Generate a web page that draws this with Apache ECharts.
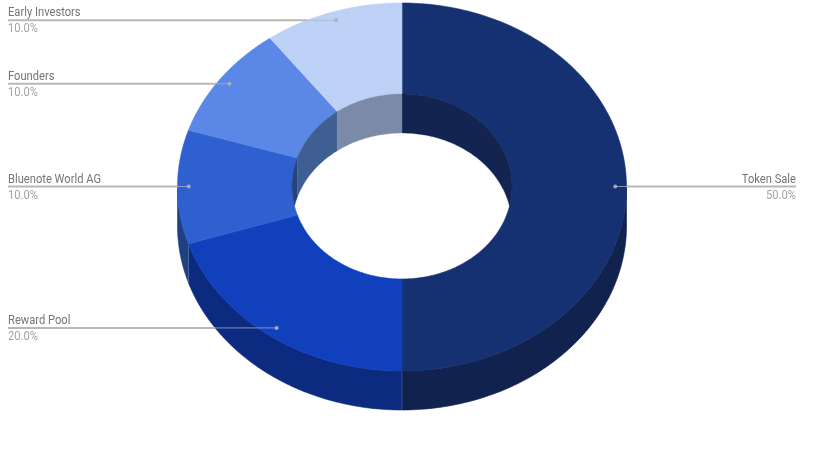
<!DOCTYPE html>
<html><head><meta charset="utf-8">
<style>html,body{margin:0;padding:0;background:#fff}#c{width:819px;height:460px}</style>
<script src="https://cdn.jsdelivr.net/npm/echarts@6/dist/echarts.min.js"></script>
</head><body><div id="c"></div>
<script>
var categories = ['Token Sale','Reward Pool','Bluenote World AG','Founders','Early Investors'];
var values = [50,20,10,10,10];

var topColors  = ['#163172','#1140bc','#2f60cf','#5b88e6','#bdd0f5'];
var sideColors = ['#11224f','#0c2a80','#1f4182','#3f5f93','#7b8aa6'];
var wallColors = ['#12244f','#0c2a80','#25447f','#3f5f93','#7b8aa6'];

var G = {cx:402, cy:187, rx:224.5, ry:184, inRx:110, inRy:92.5, inCy:186.5, depth:39,
         labelL:8, labelR:796, anchor:0.95, textScale:0.93};
var total = values.reduce(function(a,b){return a+b;},0);
var rows = [], cum = 0;
values.forEach(function(v,i){ rows.push({name:categories[i], value:[v,cum,i]}); cum += v; });

function pt(t,rx,ry,cy){ var a=t*Math.PI/180; return [G.cx+rx*Math.sin(a), cy-ry*Math.cos(a)]; }
function angles(api){
  var s=api.value(1)/total*360, e=s+api.value(0)/total*360;
  return [s,e];
}
function range(a,b){ var o=[]; for(var t=a;t<b;t+=1)o.push(t); o.push(b); return o; }

function renderTop(p,api){
  var r=angles(api), i=api.value(2), pts=[];
  range(r[0],r[1]).forEach(function(t){pts.push(pt(t,G.rx,G.ry,G.cy));});
  range(r[0],r[1]).reverse().forEach(function(t){pts.push(pt(t,G.inRx,G.inRy,G.inCy));});
  return {type:'polygon',shape:{points:pts},style:{fill:topColors[i],stroke:topColors[i],lineWidth:0.6}};
}
function renderSide(p,api){
  var r=angles(api), i=api.value(2);
  var a=Math.max(r[0],90), b=Math.min(r[1],270);
  if(a>=b) return {type:'group',children:[]};
  var pts=[], ts=range(a,b);
  ts.forEach(function(t){pts.push(pt(t,G.rx,G.ry,G.cy));});
  ts.slice().reverse().forEach(function(t){pts.push(pt(t,G.rx,G.ry,G.cy+G.depth));});
  var kids=[{type:'polygon',shape:{points:pts},style:{fill:sideColors[i],stroke:sideColors[i],lineWidth:0.6}}];
  if(r[0]>=90){
    var q=pt(r[0],G.rx,G.ry,G.cy);
    kids.push({type:'line',shape:{x1:q[0],y1:q[1],x2:q[0],y2:q[1]+G.depth},style:{stroke:'rgba(255,255,255,0.18)',lineWidth:1}});
  }
  return {type:'group',children:kids};
}
function renderWall(p,api){
  var r=angles(api), i=api.value(2);
  var s=r[0]>=180?r[0]-360:r[0], e=r[1]>180?r[1]-360:r[1];
  var a=Math.max(s,-90), b=Math.min(e,90);
  if(a>=b) return {type:'group',children:[]};
  var pts=[], ts=range(a,b);
  ts.forEach(function(t){pts.push(pt(t,G.inRx,G.inRy,G.inCy));});
  ts.slice().reverse().forEach(function(t){
    var c=Math.cos(t*Math.PI/180), q=pt(t,G.inRx,G.inRy,G.inCy);
    q[1]=Math.min(G.inCy+G.depth-G.inRy*c, G.inCy+G.inRy*c);
    pts.push(q);
  });
  return {type:'polygon',shape:{points:pts},style:{fill:wallColors[i],stroke:wallColors[i],lineWidth:0.4}};
}
function renderLabel(p,api){
  var r=angles(api), mid=(r[0]+r[1])/2, i=api.value(2);
  var q=pt(mid,G.rx*G.anchor,G.ry*G.anchor,G.cy);
  var right=mid<180, x=right?G.labelR:G.labelL, y=q[1]-0.5;
  var cyE=y>G.cy+G.depth?G.cy+G.depth:(y<G.cy?G.cy:y);
  var d=(y-cyE)/G.ry, edge=G.cx+(right?1:-1)*G.rx*Math.sqrt(Math.max(0,1-d*d));
  var align=right?'right':'left';
  function label(txt,ty,color){
    return {type:'text',x:x,y:ty,scaleX:G.textScale,
      style:{x:0,y:0,text:txt,align:align,verticalAlign:'middle',fill:color,font:'12px Roboto'}};
  }
  return {type:'group',children:[
    {type:'line',shape:{x1:x,y1:y,x2:edge,y2:y},style:{stroke:'#b8b8b8',lineWidth:2}},
    {type:'line',shape:{x1:edge,y1:y,x2:q[0],y2:y},style:{stroke:'rgba(175,180,190,0.75)',lineWidth:1}},
    {type:'circle',shape:{cx:q[0],cy:y,r:2},style:{fill:'rgba(170,175,185,0.95)'}},
    label(api.value(3),y-7,'#757575'),
    label((api.value(0)/total*100).toFixed(1)+'%',y+9,'#a3a3a3')
  ]};
}
var labelRows = rows.map(function(r){return {name:r.name,value:r.value.concat([r.name])};});
var chart = echarts.init(document.getElementById('c'),null,{renderer:'canvas'});
function layer(fn,z,data){ return {type:'custom',coordinateSystem:'none',renderItem:fn,data:data||rows,z:z,silent:true,animation:false,clip:false,
  dimensions:[{name:'v',type:'number'},{name:'s',type:'number'},{name:'i',type:'number'},{name:'n',type:'ordinal'}],encode:{}}; }
chart.setOption({
  backgroundColor:'#fff',animation:false,
  series:[layer(renderSide,1),layer(renderTop,2),layer(renderWall,3),layer(renderLabel,4,labelRows)]
});
</script></body></html>
